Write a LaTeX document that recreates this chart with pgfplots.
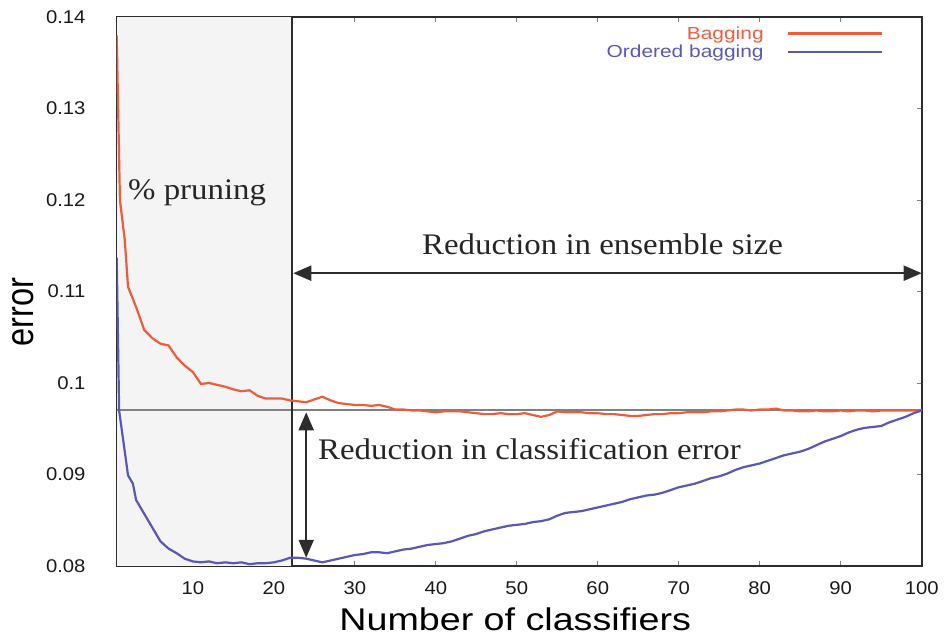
\documentclass[border=0pt]{standalone}
\usepackage{fontspec}
\usepackage{pgfplots}
\pgfplotsset{compat=1.18}
\usetikzlibrary{arrows.meta}
\setmainfont{Liberation Sans}
\newfontfamily\ticksans{Liberation Sans}[FakeStretch=1.1]
\newfontfamily\labsans{Liberation Sans}[FakeStretch=1.2]
\newfontfamily\legsans{Liberation Sans}[FakeStretch=1.2]
\newfontfamily\annserif{Liberation Serif}[FakeStretch=1.1]
\definecolor{bagred}{RGB}{238,92,60}
\definecolor{bagblue}{RGB}{88,88,184}
\definecolor{prunegray}{RGB}{244,244,244}
\definecolor{framegray}{RGB}{45,45,45}

\pgfplotstableread{
x y
0.6 0.1380
1 0.1200
1.6 0.1156
2 0.1105
3 0.1083
4 0.1058
5 0.1049
6 0.1043
7 0.1041
8 0.1028
9 0.1019
10 0.1012
11 0.0999
12 0.1000
13 0.0998
14 0.0996
15 0.0993
16 0.0991
17 0.0992
18 0.0986
19 0.0983
20 0.0983
21 0.0983
22 0.0981
23 0.0980
24 0.0979
25 0.0982
26 0.0985
27 0.0981
28 0.0978
29 0.0977
30 0.0976
31 0.0976
32 0.0975
33 0.0976
34 0.0974
35 0.0971
36 0.0971
37 0.0970
38 0.0970
39 0.0969
40 0.0968
41 0.0969
42 0.0969
43 0.0969
44 0.0968
45 0.0967
46 0.0966
47 0.0966
48 0.0967
49 0.0966
50 0.0966
51 0.0967
52 0.0965
53 0.0963
54 0.0965
55 0.0969
56 0.0968
57 0.0968
58 0.0968
59 0.0967
60 0.0967
61 0.0966
62 0.0966
63 0.0965
64 0.0964
65 0.0964
66 0.0965
67 0.0966
68 0.0966
69 0.0967
70 0.0967
71 0.0968
72 0.0968
73 0.0968
74 0.0969
75 0.0969
76 0.0970
77 0.0971
78 0.0971
79 0.0970
80 0.0971
81 0.0971
82 0.0972
83 0.0970
84 0.0970
85 0.0969
86 0.0969
87 0.0970
88 0.0969
89 0.0969
90 0.0970
91 0.0969
92 0.0970
93 0.0970
94 0.0969
95 0.0970
96 0.0970
97 0.0970
98 0.0970
99 0.0970
100 0.0970
}\bagging

\pgfplotstableread{
x y
0.6 0.1137
0.9 0.0970
2 0.0899
2.6 0.0890
3 0.0872
4 0.0857
5 0.0842
6 0.0827
7 0.0819
8 0.0814
9 0.0808
10 0.0805
11 0.0804
12 0.0805
13 0.0803
14 0.0804
15 0.0803
16 0.0804
17 0.0802
18 0.0803
19 0.0803
20 0.0804
21 0.0806
22 0.0809
23 0.0809
24 0.0808
25 0.0806
26 0.0804
27 0.0806
28 0.0808
29 0.0810
30 0.0812
31 0.0813
32 0.0815
33 0.0815
34 0.0814
35 0.0816
36 0.0818
37 0.0819
38 0.0821
39 0.0823
40 0.0824
41 0.0825
42 0.0827
43 0.0830
44 0.0833
45 0.0835
46 0.0838
47 0.0840
48 0.0842
49 0.0844
50 0.0845
51 0.0846
52 0.0848
53 0.0849
54 0.0851
55 0.0855
56 0.0858
57 0.0859
58 0.0860
59 0.0862
60 0.0864
61 0.0866
62 0.0868
63 0.0870
64 0.0873
65 0.0875
66 0.0877
67 0.0878
68 0.0880
69 0.0883
70 0.0886
71 0.0888
72 0.0890
73 0.0893
74 0.0896
75 0.0898
76 0.0901
77 0.0905
78 0.0908
79 0.0910
80 0.0912
81 0.0915
82 0.0918
83 0.0921
84 0.0923
85 0.0925
86 0.0928
87 0.0932
88 0.0936
89 0.0939
90 0.0942
91 0.0946
92 0.0949
93 0.0951
94 0.0952
95 0.0953
96 0.0957
97 0.0960
98 0.0963
99 0.0967
100 0.0970
}\ordered

\begin{document}
\begin{tikzpicture}
\begin{axis}[
  scale only axis,
  width=805bp, height=549bp,
  xmin=0.6, xmax=100, ymin=0.08, ymax=0.14,
  xtick={10,20,...,100},
  ytick={0.08,0.09,0.10,0.11,0.12,0.13,0.14},
  scaled y ticks=false,
  scaled x ticks=false,
  tick align=inside,
  major tick length=5bp,
  tick style={line width=0.8bp, color=gray},
  axis line style={line width=2.2bp, color=framegray},
  /pgf/number format/assume math mode=true,
  yticklabel style={/pgf/number format/fixed, /pgf/number format/precision=2,
    font=\ticksans\fontsize{18.5}{19}\selectfont, anchor=east, inner sep=0pt, xshift=-31bp, text=black!90},
  xticklabel style={font=\ticksans\fontsize{18.5}{19}\selectfont, anchor=base, inner sep=0pt, yshift=-28bp, text=black!90},
  xlabel={Number of classifiers},
  xlabel style={font=\labsans\fontsize{31.5}{32}\selectfont, at={(axis description cs:0.495,0)}, anchor=base, inner sep=0pt, yshift=-64bp},
  ylabel={\scalebox{1}[1.2]{error}},
  ylabel style={font=\fontsize{32.7}{33}\selectfont, at={(axis description cs:-0.1164,0.462)}, anchor=center, inner sep=0pt},
  legend plot pos=right,
  legend cell align=right,
  legend image code/.code={\draw[mark repeat=2,mark phase=2,#1] plot coordinates {(0bp,0bp) (47bp,0bp) (94bp,0bp)};},
  legend style={at={(rel axis cs:0.952,0.985)}, anchor=north east, draw=none, fill=none,
    font=\legsans\fontsize{17.5}{18}\selectfont, row sep=2bp, inner sep=0pt,
    nodes={inner sep=1bp},
    /tikz/every odd column/.append style={column sep=22bp}},
]
\fill[prunegray] (axis cs:0.6,0.08) rectangle (axis cs:22.2,0.14);
\draw[line width=2bp, color=gray] (axis cs:0.6,0.097) -- (axis cs:100,0.097);
\draw[line width=2bp, color=framegray] (axis cs:22.2,0.08) -- (axis cs:22.2,0.14);
\addplot[bagred, line width=2.2bp] table[x=x,y=y] {\bagging};
\addlegendentry{\textcolor{bagred}{Bagging}}
\addplot[bagblue, line width=2.2bp] table[x=x,y=y] {\ordered};
\addlegendentry{\textcolor{bagblue}{Ordered bagging}}
\draw[line width=2bp, color=framegray, {Triangle[length=18bp,width=15bp]}-{Triangle[length=18bp,width=15bp]}]
  (axis cs:22.4,0.1120) -- (axis cs:100,0.1120);
\draw[line width=2bp, color=framegray, {Triangle[length=18bp,width=15bp]}-{Triangle[length=18bp,width=15bp]}]
  (axis cs:24.0,0.0968) -- (axis cs:24.0,0.0809);
\node[font=\annserif\fontsize{30}{30}\selectfont, anchor=base west, inner sep=0pt, text=black!85] at (axis cs:38.3,0.1140) {Reduction in ensemble size};
\node[font=\annserif\fontsize{30}{30}\selectfont, anchor=base west, inner sep=0pt, text=black!85] at (axis cs:25.45,0.0916) {Reduction in classification error};
\node[font=\annserif\fontsize{30}{30}\selectfont, anchor=base west, inner sep=0pt, text=black!85] at (axis cs:2.0,0.1200) {\% pruning};
\coordinate (ll) at (rel axis cs:0,0);
\coordinate (ur) at (rel axis cs:1,1);
\end{axis}
\pgfresetboundingbox
\path[use as bounding box] ([shift={(-116.7bp,-71bp)}]ll) rectangle ([shift={(22.3bp,17bp)}]ur);
\end{tikzpicture}
\end{document}
